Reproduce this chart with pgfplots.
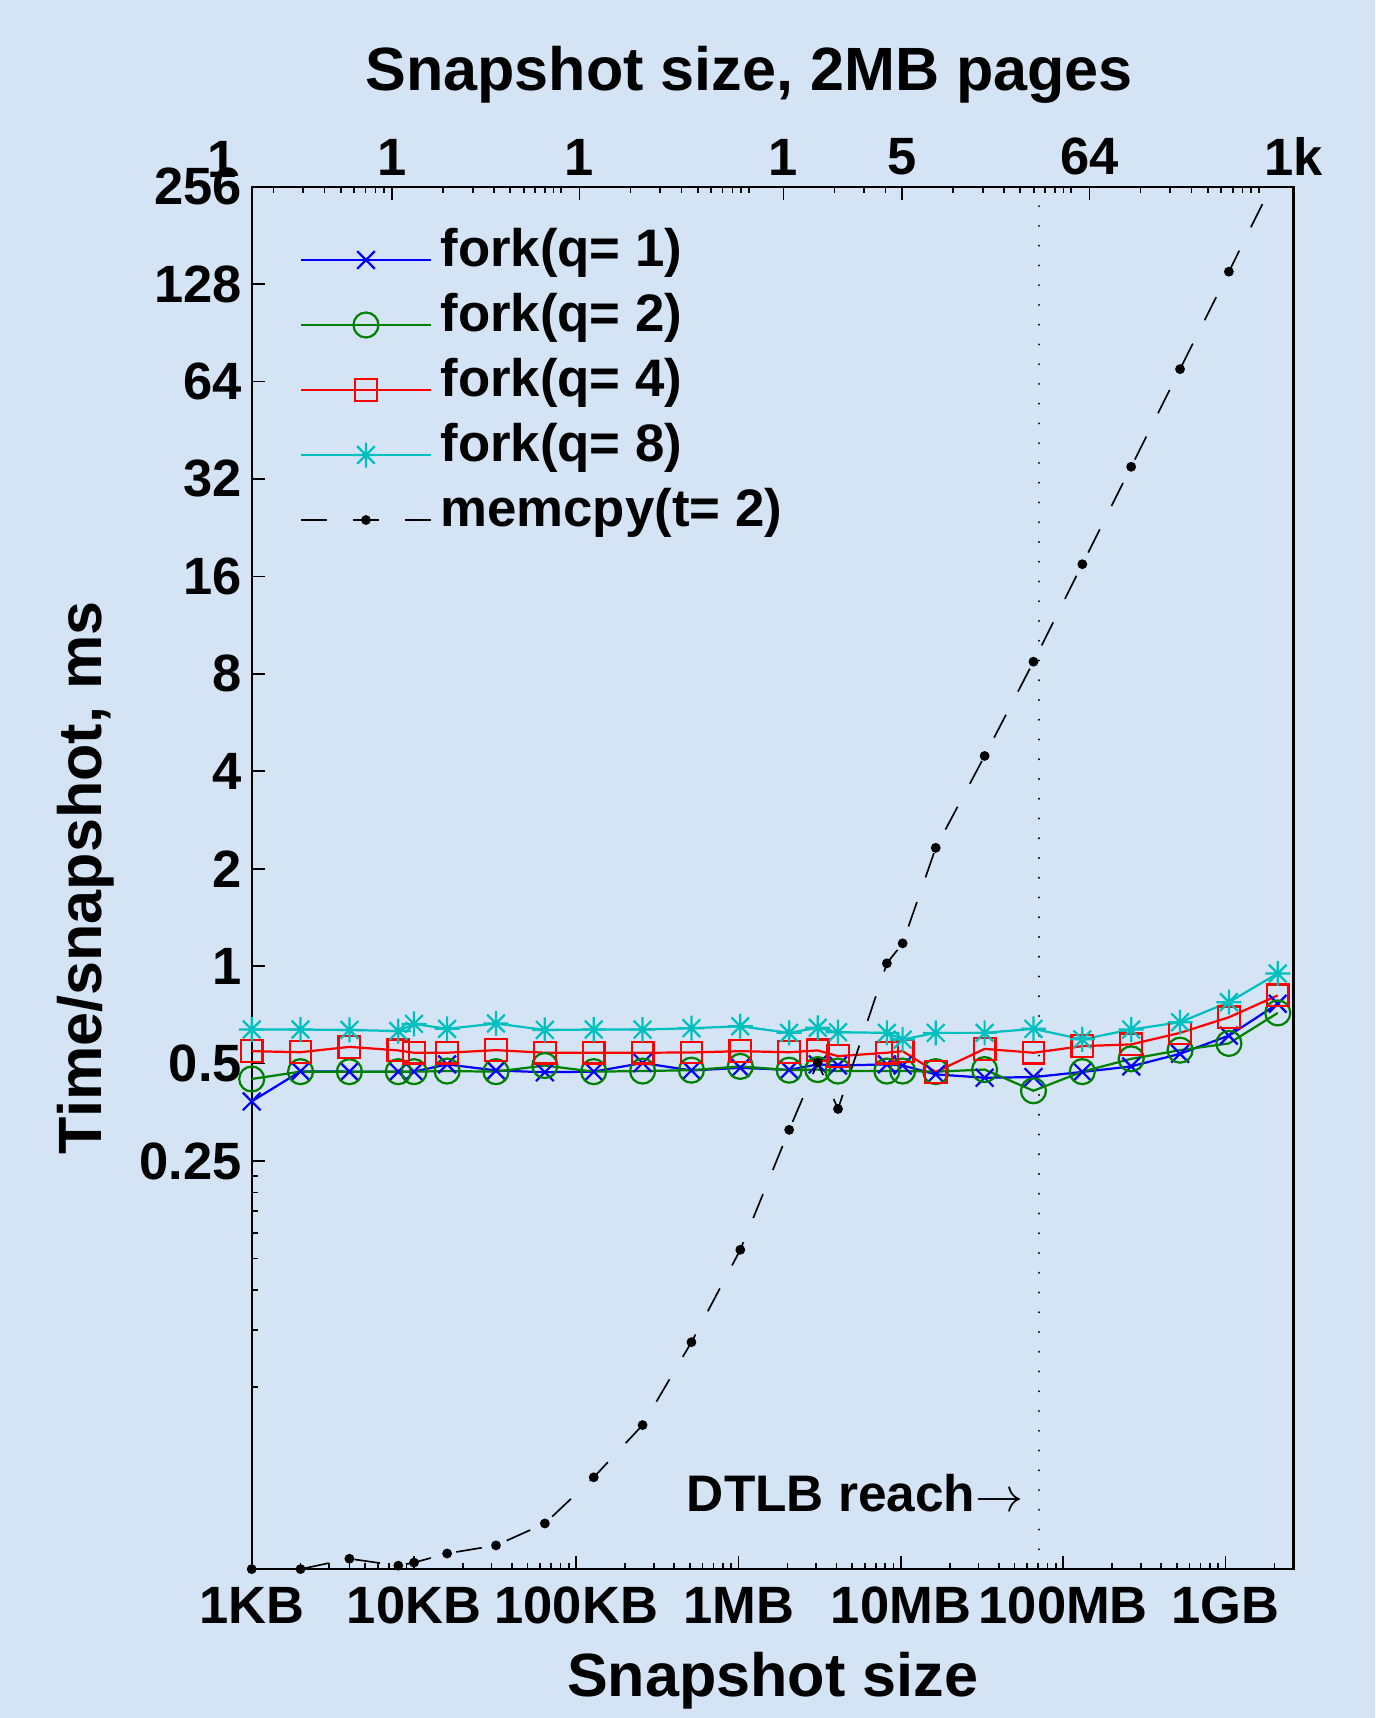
\documentclass[border=0pt]{standalone}
\usepackage{fontspec}
\setmainfont{Liberation Sans}
\usepackage{pgfplots}
\pgfplotsset{compat=1.18}
\definecolor{bgc}{RGB}{213,228,244}
\definecolor{mgreen}{RGB}{0,128,0}
\definecolor{mcyan}{RGB}{0,191,191}
\pgfdeclareplotmark{star8}{%
  \pgfpathmoveto{\pgfqpoint{-\pgfplotmarksize}{0pt}}\pgfpathlineto{\pgfqpoint{\pgfplotmarksize}{0pt}}%
  \pgfpathmoveto{\pgfqpoint{0pt}{-\pgfplotmarksize}}\pgfpathlineto{\pgfqpoint{0pt}{\pgfplotmarksize}}%
  \pgfpathmoveto{\pgfqpoint{-.7071\pgfplotmarksize}{-.7071\pgfplotmarksize}}\pgfpathlineto{\pgfqpoint{.7071\pgfplotmarksize}{.7071\pgfplotmarksize}}%
  \pgfpathmoveto{\pgfqpoint{-.7071\pgfplotmarksize}{.7071\pgfplotmarksize}}\pgfpathlineto{\pgfqpoint{.7071\pgfplotmarksize}{-.7071\pgfplotmarksize}}%
  \pgfusepathqstroke}
\newcommand{\tfont}{\bfseries\fontsize{18.9}{21}\selectfont}
\newcommand{\gfont}{\bfseries\fontsize{19}{21}\selectfont}
\newcommand{\lfont}{\bfseries\fontsize{22}{26}\selectfont}
\begin{document}
\begin{tikzpicture}
\path[use as bounding box, fill=bgc] (-90.6pt,-53.6pt) rectangle (404.4pt,564.8pt);
\begin{axis}[
  at={(0pt,0pt)}, anchor=south west,
  scale only axis, width=375pt, height=497.6pt,
  xmode=log, ymode=log,
  xmin=1, xmax=2621440, ymin=0.01371, ymax=256,
  xtick={1,10,100,1000,10000,100000,1000000},
  xticklabels={1KB,10KB,100KB,1MB,10MB,100MB,1GB},
  minor xtick={2,3,4,5,6,7,8,9,20,30,40,50,60,70,80,90,200,300,400,500,600,700,800,900,2000,3000,4000,5000,6000,7000,8000,9000,20000,30000,40000,50000,60000,70000,80000,90000,200000,300000,400000,500000,600000,700000,800000,900000,2000000},
  ytick={0.25,0.5,1,2,4,8,16,32,64,128,256},
  yticklabels={0.25,0.5,1,2,4,8,16,32,64,128,256},
  minor ytick={0.05,0.075,0.1,0.125,0.15,0.175,0.2,0.225},
  xtick pos=left, ytick pos=left,
  tick align=inside, major tick length=4.7pt, minor tick length=2.3pt,
  every tick/.style={black, line width=0.6pt},
  axis line style={line width=0.8pt},
  ticklabel style={font=\tfont},
  xticklabel style={yshift=-3pt},
  xlabel={Snapshot size}, ylabel={Time/snapshot, ms},
  label style={font=\lfont},
  xlabel style={at={(axis description cs:0.5,-0.092)}, anchor=base},
  ylabel style={at={(axis description cs:-0.159,0.5)}, anchor=center},
  title={Snapshot size, 2MB pages},
  title style={at={(axis description cs:0.4774,1.0573)}, anchor=base, font=\lfont},
  legend cell align=left,
  legend style={draw=none, fill=none, at={(axis description cs:0.0457,0.8529)}, anchor=west,
    inner sep=0pt, row sep=13.4pt, font=\gfont,
    nodes={inner ysep=0pt, inner xsep=3pt, text height=0.75em, text depth=0.25em}},
  legend image code/.code={\draw[mark repeat=2,mark phase=2] plot coordinates {(0pt,0pt) (23.4pt,0pt) (46.8pt,0pt)};},
]
\addplot[black, line width=0.8pt, dash pattern=on 0.01pt off 7.1pt, line cap=round, forget plot]
  coordinates {(71000,0.01371) (71000,256)};
\addplot[blue, line width=0.8pt, mark=x, mark size=4.5pt] coordinates {
(1,0.382) (2,0.473) (4,0.472) (8,0.472) (10,0.472) (16,0.497) (32,0.476) (64,0.470) (128,0.472) (256,0.502) (512,0.476) (1024,0.485) (2048,0.478) (3072,0.497) (4096,0.493) (8192,0.497) (10240,0.493) (16384,0.463) (32768,0.452) (65536,0.454) (131072,0.471) (262144,0.490) (524288,0.536) (1048576,0.610) (2097152,0.765)};
\addlegendentry{fork(q= 1)}
\addplot[mgreen, line width=0.8pt, mark=o, mark size=4.5pt] coordinates {
(1,0.448) (2,0.472) (4,0.472) (8,0.472) (10,0.472) (16,0.474) (32,0.472) (64,0.493) (128,0.472) (256,0.474) (512,0.477) (1024,0.490) (2048,0.477) (3072,0.479) (4096,0.474) (8192,0.474) (10240,0.474) (16384,0.472) (32768,0.479) (65536,0.412) (131072,0.472) (262144,0.517) (524288,0.550) (1048576,0.577) (2097152,0.717)};
\addlegendentry{fork(q= 2)}
\addplot[red, line width=0.8pt, mark=square, mark size=3.9pt] coordinates {
(1,0.546) (2,0.542) (4,0.563) (8,0.549) (10,0.540) (16,0.540) (32,0.550) (64,0.540) (128,0.540) (256,0.540) (512,0.541) (1024,0.546) (2048,0.542) (3072,0.549) (4096,0.527) (8192,0.540) (10240,0.546) (16384,0.471) (32768,0.555) (65536,0.540) (131072,0.566) (262144,0.573) (524288,0.622) (1048576,0.695) (2097152,0.812)};
\addlegendentry{fork(q= 4)}
\addplot[mcyan, line width=0.8pt, mark=star8, mark size=4.5pt] coordinates {
(1,0.637) (2,0.637) (4,0.635) (8,0.630) (10,0.663) (16,0.640) (32,0.665) (64,0.635) (128,0.637) (256,0.637) (512,0.643) (1024,0.652) (2048,0.622) (3072,0.645) (4096,0.625) (8192,0.622) (10240,0.593) (16384,0.622) (32768,0.622) (65536,0.640) (131072,0.594) (262144,0.637) (524288,0.671) (1048576,0.774) (2097152,0.949)};
\addlegendentry{fork(q= 8)}
\addplot[black, line width=0.6pt, dash pattern=on 9.3pt off 9.4pt, mark=*, mark size=1.45pt, mark options={solid}] coordinates {
(1,0.01371) (2,0.01371) (4,0.01476) (8,0.01405) (10,0.01436) (16,0.01532) (32,0.01623) (64,0.01897) (128,0.02634) (256,0.0382) (512,0.0689) (1024,0.1329) (2048,0.312) (3072,0.503) (4096,0.362) (8192,1.02) (10240,1.176) (16384,2.32) (32768,4.46) (65536,8.72) (131072,17.45) (262144,34.9) (524288,69.9) (1048576,139.8) (2097152,282)};
\addlegendentry{memcpy(t= 2)}
\node[anchor=base east, inner sep=0pt, font=\bfseries\fontsize{18.5}{20}\selectfont] at (axis cs:57300,0.0206) {DTLB reach$\rightarrow$};
\end{axis}
\begin{axis}[
  at={(0pt,0pt)}, anchor=south west,
  scale only axis, width=375pt, height=497.6pt,
  xmode=log, xmin=0.000727, xmax=1024, ymin=0, ymax=1,
  axis x line*=top, axis y line=none,
  xtick={0.00488,0.0625,1,5,64,1024}, xticklabels={1,1,1,5,64,1k},
  minor xtick={0.000977,0.001465,0.001953,0.002441,0.00293,0.003418,0.003906,0.004395,0.00977,0.01465,0.01953,0.02441,0.0293,0.03418,0.03906,0.04395,0.04883,0.125,0.1875,0.25,0.3125,0.375,0.4375,0.5,0.5625,0.625,2,3,4,10,15,20,25,30,35,40,45,50,128,192,256,320,384,448,512,576,640},
  tick align=inside, major tick length=4.7pt, minor tick length=2.3pt,
  every tick/.style={black, line width=0.6pt},
  axis line style={line width=0.8pt},
  xticklabel style={font=\tfont, yshift=0.6pt},
  clip=false,
]
\node[anchor=south, inner sep=0pt, font=\tfont] at (axis cs:0.000488,1) [yshift=3.2pt] {1};
\end{axis}
\end{tikzpicture}
\end{document}
